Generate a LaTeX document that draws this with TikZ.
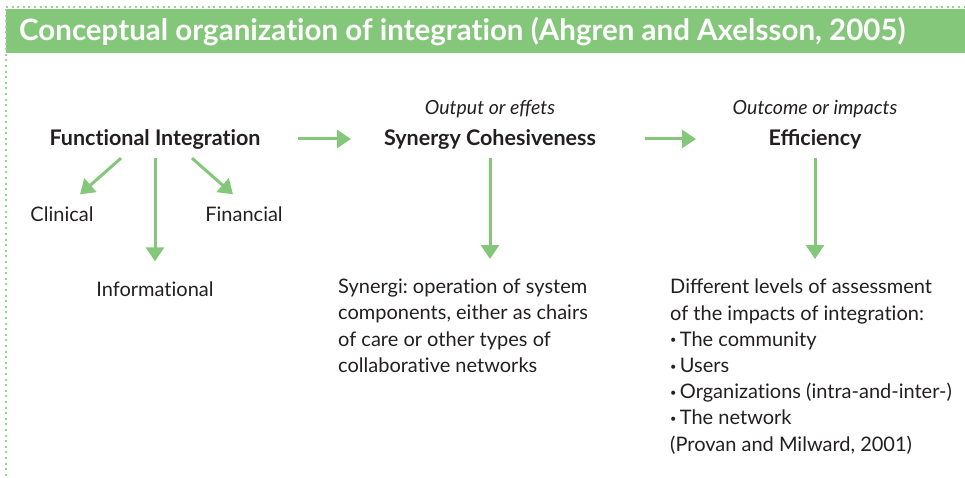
\documentclass[tikz,border=0pt]{standalone}
\usepackage{fontspec}
\setmainfont{Lato}
\usetikzlibrary{arrows.meta}
\frenchspacing

\definecolor{leaf}{RGB}{132,199,122}
\definecolor{ink}{RGB}{35,31,32}

\newcommand{\bul}{\raisebox{0.25ex}{\fontsize{11}{11}\selectfont\textbullet}\,}
\newcommand{\noti}{t\kern0pt i}

\tikzset{
    head/.style={font=\fontsize{21.5}{25}\selectfont\bfseries, text=ink, inner sep=0pt},
    sub/.style={font=\fontsize{19.5}{23}\selectfont\itshape, text=ink, inner sep=0pt},
    leafbox/.style={font=\fontsize{20}{24}\selectfont, text=ink, inner sep=0pt},
    textblock/.style={font=\fontsize{20}{26.2}\selectfont, text=ink, inner sep=0pt, align=left, anchor=north west},
    arr/.style={draw=leaf, line width=3pt, -{Triangle[length=14pt,width=18pt]}}
}

\begin{document}
\begin{tikzpicture}[x=1pt,y=-1pt]
        \useasboundingbox (0,0) rectangle (965,478);

        % Draw frame and title bar
        \fill[leaf] (6,9) rectangle (965,53);
        \draw[leaf!80, line width=2pt, dash pattern=on 2pt off 3.6pt] (6,7) -- (965,7);
        \draw[leaf!80, line width=2pt, dash pattern=on 2pt off 3.6pt] (6,9) -- (6,478);
        \node[anchor=west, text=white, inner sep=0pt, font=\fontsize{29.5}{32}\selectfont\bfseries] (title) at (19,32)
            {Conceptual organiza\noti on of integra\noti on (Ahgren and Axelsson, 2005)};

        % Draw heads
        \node[head] (fi) at (155,139) {Func\noti onal Integra\noti on};
        \node[sub] (oe) at (490,109) {Output or effets};
        \node[head] (sc) at (490,139) {Synergy Cohesiveness};
        \node[sub] (oi) at (815,109) {Outcome or impacts};
        \node[head] (ef) at (815,139) {Efficiency};

        % Draw leaves
        \node[leafbox] (clin) at (62,214) {Clinical};
        \node[leafbox] (fin) at (244,214) {Financial};
        \node[leafbox] (info) at (155,289) {Informa\noti onal};

        \node[textblock] (syn) at (338,279) {Synergi: opera\noti on of system\\components, either as chairs\\of care or other types of\\collabora\noti ve networks};
        \node[textblock] (lev) at (670,279) {Different levels of assessment\\of the impacts of integra\noti on:\\\bul The community\\\bul Users\\\bul Organiza\noti ons (intra-and-inter-)\\\bul The network\\(Provan and Milward, 2001)};

        % Draw edges
        \draw[arr] ([xshift=143pt]fi.center) -- ([xshift=-139pt]sc.center);
        \draw[arr] ([xshift=155pt]sc.center) -- ([xshift=-119pt]ef.center);

        \draw[arr] ([xshift=-34pt,yshift=-9pt]fi.south) -- ([xshift=18pt,yshift=12pt]clin.north);
        \draw[arr] ([yshift=-9pt]fi.south) -- ([yshift=20pt]info.north);
        \draw[arr] ([xshift=37pt,yshift=-9pt]fi.south) -- ([xshift=-11pt,yshift=12pt]fin.north);

        \draw[arr] ([yshift=-9pt]sc.south) -- ([yshift=20pt]syn.north -| sc.south);
        \draw[arr] ([yshift=-9pt]ef.south) -- ([yshift=20pt]lev.north -| ef.south);
    \end{tikzpicture}
\end{document}
